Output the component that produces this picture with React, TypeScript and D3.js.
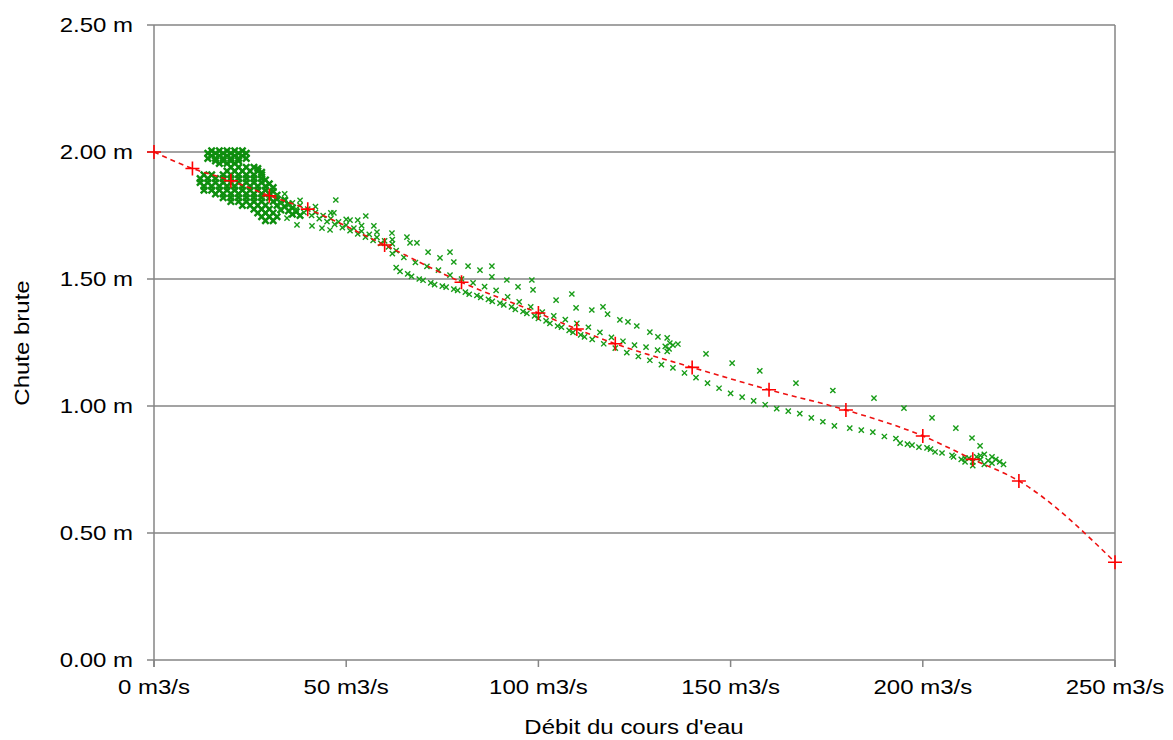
import * as d3 from 'd3';

// fitted curve (red + markers, dashed line)
const fitQ = [0, 10, 20, 30, 40, 60, 80, 100, 110, 120, 140, 160, 180, 200, 213, 225, 250];
const fitH = [2.0, 1.935, 1.887, 1.828, 1.775, 1.634, 1.487, 1.366, 1.303, 1.245, 1.152, 1.064, 0.984, 0.882, 0.79, 0.705, 0.385];

// measured points (green x markers), [débit, chute]
const clusterTop: [number, number][] = [
  [15, 2.005], [17, 2.005], [19, 2.005], [21, 2.005], [23, 2.005],
  [14, 1.995], [16, 1.995], [18, 1.995], [20, 1.995], [22, 1.995], [24, 1.995],
  [15, 1.985], [17, 1.985], [19, 1.985], [21, 1.985], [23, 1.985],
  [14, 1.975], [16, 1.975], [18, 1.975], [20, 1.975], [22, 1.975], [24, 1.975],
  [16, 1.965], [18, 1.965], [20, 1.965], [22, 1.965], [17, 1.955], [19, 1.955], [21, 1.955],
];

const clusterMain: [number, number][] = [
  [20, 1.94], [22, 1.94], [24, 1.94], [26, 1.94], [27, 1.935],
  [19, 1.925], [21, 1.925], [23, 1.925], [25, 1.925], [27, 1.925], [28, 1.92],
  [13, 1.91], [15, 1.91], [18, 1.91], [20, 1.91], [22, 1.91], [24, 1.91], [26, 1.91], [28, 1.91],
  [12, 1.895], [14, 1.895], [16, 1.895], [18, 1.895], [20, 1.895], [22, 1.895], [24, 1.895], [26, 1.895], [28, 1.895], [29, 1.89],
  [12, 1.88], [14, 1.88], [16, 1.88], [18, 1.88], [20, 1.88], [22, 1.88], [24, 1.88], [26, 1.88], [28, 1.88], [30, 1.875],
  [13, 1.865], [15, 1.865], [17, 1.865], [19, 1.865], [21, 1.865], [23, 1.865], [25, 1.865], [27, 1.865], [29, 1.865], [31, 1.86],
  [13, 1.85], [15, 1.85], [17, 1.85], [19, 1.85], [21, 1.85], [23, 1.85], [25, 1.85], [27, 1.85], [29, 1.85], [31, 1.845],
  [16, 1.835], [18, 1.835], [20, 1.835], [22, 1.835], [24, 1.835], [26, 1.835], [28, 1.835], [30, 1.835], [32, 1.83],
  [18, 1.82], [20, 1.82], [22, 1.82], [24, 1.82], [26, 1.82], [28, 1.82], [30, 1.82], [32, 1.815], [34, 1.81],
  [20, 1.805], [22, 1.805], [24, 1.805], [26, 1.805], [28, 1.805], [31, 1.805], [33, 1.8], [35, 1.795],
  [23, 1.79], [25, 1.79], [27, 1.79], [29, 1.79], [32, 1.79], [34, 1.785], [36, 1.78],
  [26, 1.775], [28, 1.775], [30, 1.775], [33, 1.772], [35, 1.768], [37, 1.765],
  [27, 1.76], [29, 1.76], [31, 1.76], [36, 1.755], [38, 1.75],
  [28, 1.745], [30, 1.745], [32, 1.745], [29, 1.73], [31, 1.73],
];

const band: [number, number][] = [
  [32, 1.83], [34, 1.815], [36, 1.8], [38, 1.79], [40, 1.775], [42, 1.762], [44, 1.75], [46, 1.738],
  [48, 1.725], [50, 1.712], [52, 1.7], [54, 1.688], [56, 1.676], [58, 1.664], [60, 1.65], [62, 1.638],
  [33, 1.8], [35, 1.79], [37, 1.775], [39, 1.762], [41, 1.75], [43, 1.738], [45, 1.726], [47, 1.715],
  [49, 1.702], [51, 1.69], [53, 1.678], [55, 1.665], [57, 1.652], [59, 1.64], [61, 1.626], [63, 1.612],
  [34, 1.835], [38, 1.81], [42, 1.785], [46, 1.76], [50, 1.735], [54, 1.71], [58, 1.685], [62, 1.655],
];

const lowerBand: [number, number][] = [
  [63, 1.545], [66, 1.52], [69, 1.5], [72, 1.485], [75, 1.472], [78, 1.46], [81, 1.448], [84, 1.435],
  [87, 1.42], [90, 1.405], [93, 1.39], [96, 1.372], [99, 1.355], [102, 1.335], [105, 1.315], [108, 1.298],
  [111, 1.28], [114, 1.262], [117, 1.245], [120, 1.228], [123, 1.21], [126, 1.195], [129, 1.18], [132, 1.163],
  [135, 1.15], [138, 1.13], [141, 1.112], [144, 1.09], [147, 1.07], [150, 1.05], [153, 1.035], [156, 1.02],
  [159, 1.005], [162, 0.99], [165, 0.98], [168, 0.97], [171, 0.953], [174, 0.938], [177, 0.922], [181, 0.913],
  [184, 0.905], [187, 0.897], [190, 0.88], [193, 0.872], [196, 0.85], [199, 0.838], [202, 0.83], [205, 0.815], [208, 0.8],
  [64, 1.53], [67, 1.51], [70, 1.495], [73, 1.478], [76, 1.468], [79, 1.455], [82, 1.44], [85, 1.428],
  [88, 1.412], [91, 1.398], [94, 1.38], [97, 1.365], [100, 1.345], [103, 1.325], [106, 1.31], [109, 1.29], [112, 1.272],
];

const middleBand: [number, number][] = [
  [62, 1.6], [65, 1.585], [68, 1.565], [71, 1.55], [74, 1.535], [77, 1.515], [80, 1.5], [83, 1.485],
  [86, 1.47], [89, 1.455], [92, 1.43], [95, 1.41], [98, 1.39], [101, 1.37], [104, 1.355], [107, 1.34],
  [110, 1.325], [113, 1.31], [116, 1.29], [119, 1.27], [122, 1.255], [125, 1.24], [128, 1.232], [131, 1.22],
  [133, 1.235], [134, 1.225], [135, 1.24], [133.5, 1.215],
];

const upperScatter: [number, number][] = [
  [47.3, 1.811], [46.8, 1.76], [51, 1.732], [53, 1.732], [55.1, 1.748], [57.2, 1.709], [41.1, 1.709], [43.7, 1.7],
  [32.8, 1.772], [34.6, 1.74], [37.2, 1.713], [45.8, 1.693],
  [61.9, 1.681], [65.8, 1.665], [66.6, 1.642], [68.4, 1.642], [71.3, 1.606], [77, 1.606], [74.4, 1.583], [78, 1.567],
  [81.7, 1.551], [84.8, 1.535], [87.9, 1.551], [87.9, 1.508], [91.8, 1.496], [98.3, 1.496], [94.7, 1.469], [98.6, 1.457],
  [104.6, 1.417], [108.7, 1.441], [109.8, 1.386], [113.9, 1.378], [116.8, 1.39], [118, 1.362], [121.2, 1.339],
  [123.3, 1.331], [125.6, 1.315], [129, 1.291], [131.1, 1.272], [133.5, 1.268], [136.3, 1.244], [134.2, 1.248],
  [143.6, 1.205], [150.4, 1.169], [157.6, 1.138], [167, 1.09], [176.6, 1.061], [187.3, 1.031], [195.1, 0.992],
  [202.4, 0.953], [208.6, 0.913], [212.8, 0.874], [214.9, 0.843],
  [194.1, 0.854], [197.2, 0.846], [201.1, 0.835], [203.2, 0.819], [207.6, 0.806],
];

const endCluster: [number, number][] = [
  [210, 0.79], [211, 0.78], [212, 0.795], [213, 0.78], [214, 0.8], [215, 0.79], [216, 0.81], [217, 0.785],
  [218, 0.8], [219, 0.79], [220, 0.78], [221, 0.77], [216, 0.77], [213, 0.765], [218, 0.775], [215, 0.805], [211, 0.795],
];

const dense = [...clusterTop, ...clusterMain];
const sparse = [...band, ...lowerBand, ...middleBand, ...upperScatter, ...endCluster];

const yTicks = [0, 0.5, 1, 1.5, 2, 2.5];
const xTicks = [0, 50, 100, 150, 200, 250];

const W = 1173, H = 740;
const FONT = 'Liberation Sans, Arial, sans-serif';
const SX = 1.2; // horizontal stretch of text seen in the reference

const cross = (cx: number, cy: number, r: number) =>
  `M${cx - r},${cy - r}L${cx + r},${cy + r}M${cx - r},${cy + r}L${cx + r},${cy - r}`;

export default function App() {
  const x = d3.scaleLinear().domain([0, 250]).range([154, 1115]);
  const y = d3.scaleLinear().domain([0, 2.5]).range([660, 25]);

  const fitData = fitQ.map((q, i) => [q, fitH[i]] as [number, number]);
  const line = d3.line<[number, number]>()
    .x(d => x(d[0]))
    .y(d => y(d[1]))
    .curve(d3.curveMonotoneX);

  const fmtY = d3.format('.2f');

  return (
    <svg width={W} height={H} style={{ position: 'absolute', left: 0, top: 0, background: '#fff' }}>
      {/* grid + border */}
      {yTicks.map(t => (
        <line key={'g' + t} x1={x(0)} x2={x(250)} y1={y(t)} y2={y(t)} stroke="#858585" strokeWidth={1.5} />
      ))}
      <line x1={x(0)} x2={x(0)} y1={y(2.5)} y2={y(0) + 7} stroke="#858585" strokeWidth={1.5} />
      <line x1={x(250)} x2={x(250)} y1={y(2.5)} y2={y(0) + 7} stroke="#858585" strokeWidth={1.5} />
      {yTicks.map(t => (
        <line key={'yt' + t} x1={x(0) - 7} x2={x(0)} y1={y(t)} y2={y(t)} stroke="#858585" strokeWidth={1.5} />
      ))}
      {xTicks.map(t => (
        <line key={'xt' + t} x1={x(t)} x2={x(t)} y1={y(0)} y2={y(0) + 7} stroke="#858585" strokeWidth={1.5} />
      ))}

      {/* measured points */}
      <g stroke="#0e8e0e" strokeWidth={2.4}>
        {dense.map((d, i) => <path key={i} d={cross(x(d[0]), y(d[1]), 3.2)} />)}
      </g>
      <g stroke="#179c17" strokeWidth={1.4}>
        {sparse.map((d, i) => <path key={i} d={cross(x(d[0]), y(d[1]), 2.6)} />)}
      </g>

      {/* fitted curve */}
      <path d={line(fitData) || ''} fill="none" stroke="#ee1111" strokeWidth={1.6} strokeDasharray="5,4" />
      <g stroke="#ff0000" strokeWidth={1.6}>
        {fitData.map((d, i) => {
          const cx = x(d[0]), cy = y(d[1]);
          return <path key={i} d={`M${cx - 7},${cy}L${cx + 7},${cy}M${cx},${cy - 7}L${cx},${cy + 7}`} />;
        })}
      </g>

      {/* tick labels */}
      <g fontFamily={FONT} fontSize={20} fill="#000">
        {yTicks.map(t => (
          <g key={'yl' + t} transform={`translate(133,${y(t)}) scale(${SX},1)`}>
            <text textAnchor="end" dy="0.35em">{fmtY(t) + ' m'}</text>
          </g>
        ))}
        {xTicks.map(t => (
          <g key={'xl' + t} transform={`translate(${x(t)},694) scale(${SX},1)`}>
            <text textAnchor="middle">{t + ' m3/s'}</text>
          </g>
        ))}
        <g transform={`translate(634,734) scale(${SX},1)`}>
          <text textAnchor="middle">Débit du cours d'eau</text>
        </g>
        <g transform={`translate(22,343) rotate(-90) scale(${SX},1)`}>
          <text textAnchor="middle" dy="0.35em">Chute brute</text>
        </g>
      </g>
    </svg>
  );
}
